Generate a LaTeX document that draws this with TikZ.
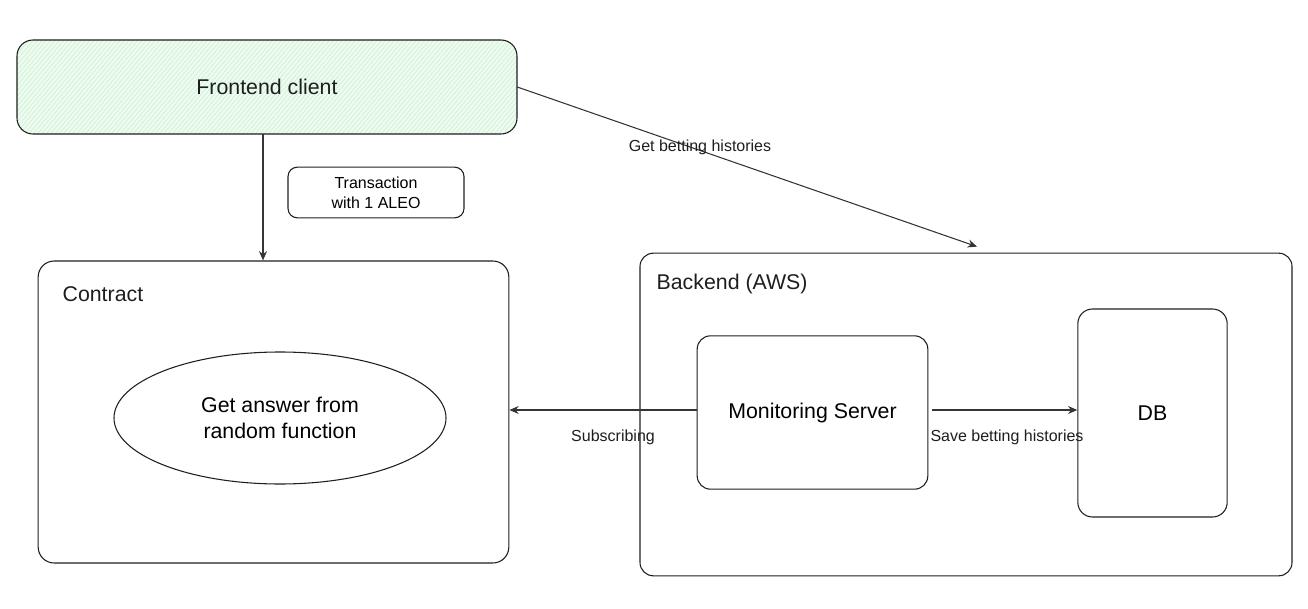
\documentclass[tikz,border=0pt]{standalone}
\usepackage{fontspec}
\setmainfont{Liberation Sans}
\usetikzlibrary{arrows.meta,shapes.geometric,patterns.meta}
\definecolor{ink}{HTML}{1E1E1E}
\definecolor{paleg}{HTML}{EEFBF0}
\definecolor{hatchg}{HTML}{C4EFCB}
\tikzset{
  px/.style={x=0.75pt,y=-0.75pt},
  box/.style={draw=ink, line width=0.8pt, inner sep=0pt, align=center},
  big/.style={font=\fontsize{16}{19}\selectfont},
  small/.style={font=\fontsize{12}{15}\selectfont},
  conn/.style={draw=ink!90, line width=0.8pt, -{Stealth[length=7pt,width=6pt]}},
  lbl/.style={text=ink, inner sep=1pt}
}
\begin{document}
\begin{tikzpicture}[px]
\useasboundingbox (0,0) rectangle (1308,609);
% Frontend client
\node[box, big, rounded corners=12pt, minimum width=375pt, minimum height=70.5pt,
  preaction={fill=paleg}, pattern={Lines[angle=50,distance=2.5pt,line width=0.35pt]}, pattern color=hatchg]
  (front) at (267,87) {};
\node[lbl, big] (fronttxt) at (267,87) {Frontend client};
% Transaction label box
\node[box, small, rounded corners=7pt, minimum width=132pt, minimum height=38pt] (tx) at (376,192.5) {Transaction\\with 1 ALEO};
% Contract
\node[box, rounded corners=12pt, minimum width=353pt, minimum height=226.5pt] (contract) at (273.5,412) {};
\node[lbl, big, anchor=west] (contractlbl) at (61,294) {Contract};
\node[draw=ink, line width=0.8pt, ellipse, minimum width=249pt, minimum height=99pt, inner sep=0pt, big, align=center] (rand) at (280,418) {Get answer from\\random function};
% Backend
\node[box, rounded corners=10pt, minimum width=489pt, minimum height=242pt] (backend) at (966,414.5) {};
\node[lbl, big, anchor=west] (backendlbl) at (655,284) {Backend (AWS)};
\node[box, big, rounded corners=10pt, minimum width=173pt, minimum height=115pt] (mon) at (812.5,412.5) {Monitoring Server};
\node[box, big, rounded corners=11pt, minimum width=112pt, minimum height=156pt] (db) at (1152.5,413) {DB};
% Connectors
\draw[conn] ([xshift=-3pt]front.south) -- ([xshift=-3pt]front.south |- contract.north);
\draw[conn] (front.east) -- ([xshift=8.25pt,yshift=4.5pt]backend.north);
\node[lbl, small] (getlbl) at (700,147) {Get betting histories};
\draw[conn] (mon.west|-0,410) -- (contract.east|-0,410);
\node[lbl, small] (sublbl) at (613,437) {Subscribing};
\draw[conn] ([xshift=3pt]mon.east|-0,410) -- (db.west|-0,410);
\node[lbl, small] (savelbl) at (1007,437) {Save betting histories};
\end{tikzpicture}
\end{document}
